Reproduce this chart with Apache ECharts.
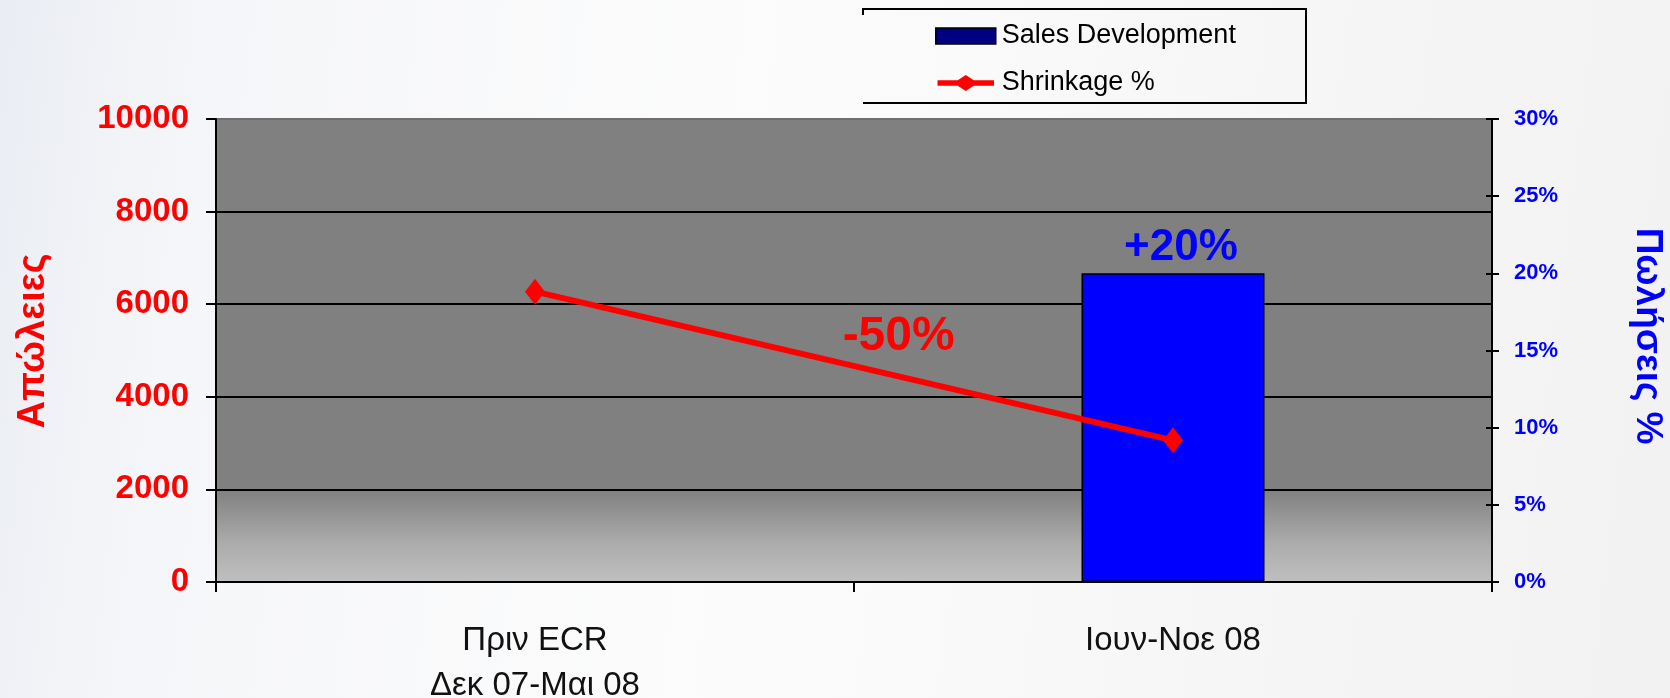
<!DOCTYPE html>
<html>
<head>
<meta charset="utf-8">
<script src="https://cdn.jsdelivr.net/npm/echarts@6/dist/echarts.min.js"></script>
<style>
  html, body { margin: 0; padding: 0; background: #fff; }
  #chart { width: 1670px; height: 698px; }
</style>
</head>
<body>
<div id="chart"></div>
<script>
// Periods on the category axis
const categories = ['Πριν ECR\nΔεκ 07-Μαι 08', 'Ιουν-Νοε 08'];
// Losses (left axis, absolute)
const shrinkage = [6270, 3060];
// Sales change in % (right axis); no bar for the first period
const salesDevelopment = ['-', 20];
// Axis ranges
const lossTicks = { min: 0, max: 10000, interval: 2000 };
const salesTicks = { min: 0, max: 30, interval: 5 };
// Axis titles and the annotation of the change in losses
const lossTitle = 'Απώλειες';
const salesTitle = 'Πωλήσεις %';
const shrinkageChangeText = '-50%';

const SANS = '"Liberation Sans",Arial,sans-serif';

const chart = echarts.init(document.getElementById('chart'), null, { renderer: 'canvas' });

// legend sample for the line: thick stroke with a diamond in the middle
const lineIcon = 'path://M0,5.5 H21.5 L30,0 L38.5,5.5 H60 V11.5 H38.5 L30,17 L21.5,11.5 H0 Z';

const option = {
  animation: false,
  backgroundColor: {
    type: 'linear', x: 0, y: 0, x2: 1, y2: 0.3,
    colorStops: [
      { offset: 0, color: '#eaedf3' },
      { offset: 0.12, color: '#f5f6f9' },
      { offset: 0.45, color: '#fcfcfc' },
      { offset: 1, color: '#f2f2f2' }
    ]
  },
  grid: {
    left: 216, right: 178, top: 119, bottom: 116,
    outerBoundsMode: 'none',
    containLabel: false,
    show: true,
    borderWidth: 0,
    backgroundColor: {
      type: 'linear', x: 0, y: 0, x2: 0, y2: 1,
      colorStops: [
        { offset: 0, color: '#808080' },
        { offset: 0.80, color: '#808080' },
        { offset: 0.92, color: '#adadad' },
        { offset: 1, color: '#bfbfbf' }
      ]
    }
  },
  legend: {
    orient: 'vertical',
    left: 930, top: 17,
    itemWidth: 60, itemHeight: 16, itemGap: 19,
    textStyle: { fontFamily: SANS, fontSize: 27, color: '#000', lineHeight: 28, padding: [0, 0, 0, 1] },
    data: [
      { name: 'Sales Development', icon: 'rect', itemStyle: { color: '#000080', borderColor: '#000', borderWidth: 1.5 } },
      { name: 'Shrinkage %', icon: lineIcon, itemStyle: { color: '#ff0000', borderWidth: 0 } }
    ]
  },
  xAxis: {
    type: 'category',
    data: categories,
    boundaryGap: true,
    axisLine: { lineStyle: { color: '#000', width: 2 } },
    axisTick: { show: true, length: 10, lineStyle: { color: '#000', width: 2 } },
    axisLabel: { fontFamily: SANS, fontSize: 33, lineHeight: 45, color: '#111', margin: 36 }
  },
  yAxis: [
    {
      type: 'value',
      min: lossTicks.min, max: lossTicks.max, interval: lossTicks.interval,
      axisLine: { show: true, lineStyle: { color: '#000', width: 2 } },
      axisTick: { show: true, length: 10, lineStyle: { color: '#000', width: 2 } },
      axisLabel: { fontFamily: SANS, fontWeight: 'bold', fontSize: 33, color: '#ff0000', margin: 27,
                   formatter: v => String(v) },
      splitLine: { show: true, lineStyle: { color: ['#000', '#000', '#000', '#000', '#000', '#6f6f6f'], width: 2 } }
    },
    {
      type: 'value',
      position: 'right',
      min: salesTicks.min, max: salesTicks.max, interval: salesTicks.interval,
      axisLine: { show: true, lineStyle: { color: '#000', width: 2 } },
      axisTick: { show: true, length: 7, lineStyle: { color: '#000', width: 2 } },
      axisLabel: { fontFamily: SANS, fontWeight: 'bold', fontSize: 22, color: '#0000ff', margin: 22, formatter: '{value}%' },
      splitLine: { show: false }
    },
    {
      // inner half of the right-hand ticks, so they cross the axis line
      type: 'value',
      position: 'right',
      min: salesTicks.min, max: salesTicks.max, interval: salesTicks.interval,
      axisLine: { show: false },
      axisTick: { show: true, inside: true, length: 6, lineStyle: { color: '#000', width: 2 } },
      axisLabel: { show: false },
      splitLine: { show: false }
    }
  ],
  series: [
    {
      name: 'Sales Development',
      type: 'bar',
      yAxisIndex: 1,
      data: salesDevelopment,
      barWidth: 183,
      itemStyle: { color: '#0000ff', borderColor: '#000', borderWidth: 1.5 },
      label: {
        show: true, position: 'top', distance: 3, offset: [8, 0],
        formatter: p => '+' + p.value + '%',
        fontFamily: SANS, fontWeight: 'bold', fontSize: 44, color: '#0000ff'
      }
    },
    {
      name: 'Shrinkage %',
      type: 'line',
      yAxisIndex: 0,
      data: shrinkage,
      z: 5,
      color: '#ff0000',
      lineStyle: { color: '#ff0000', width: 6 },
      symbol: 'diamond', symbolSize: [20, 26],
      itemStyle: { color: '#ff0000' }
    }
  ]
};

chart.setOption(option);

// Annotation of the change, placed along the loss line
const p0 = chart.convertToPixel({ seriesIndex: 1 }, [0, shrinkage[0]]);
const p1 = chart.convertToPixel({ seriesIndex: 1 }, [1, shrinkage[1]]);
const t = 0.57;
const ax = p0[0] + (p1[0] - p0[0]) * t;
const ay = p0[1] + (p1[1] - p0[1]) * t - 40;

chart.setOption({
  graphic: [
    // legend frame (open on most of its left side)
    { type: 'polyline', shape: { points: [[863, 15], [863, 9], [1306, 9], [1306, 103], [863, 103]] },
      style: { stroke: '#000', lineWidth: 2, fill: null }, z: 10 },
    { type: 'text', x: ax, y: ay, z: 10,
      style: { text: shrinkageChangeText, fill: '#ff0000', font: 'bold 48px ' + SANS,
               textAlign: 'center', textVerticalAlign: 'middle' } },
    // axis titles
    { type: 'text', x: 34, y: 341, rotation: Math.PI / 2, z: 10,
      style: { text: lossTitle, fill: '#ff0000', font: 'bold 38px ' + SANS,
               textAlign: 'center', textVerticalAlign: 'middle' } },
    { type: 'text', x: 1647, y: 336, rotation: -Math.PI / 2, z: 10,
      style: { text: salesTitle, fill: '#0000ff', font: 'bold 37px ' + SANS,
               textAlign: 'center', textVerticalAlign: 'middle' } }
  ]
});
</script>
</body>
</html>
